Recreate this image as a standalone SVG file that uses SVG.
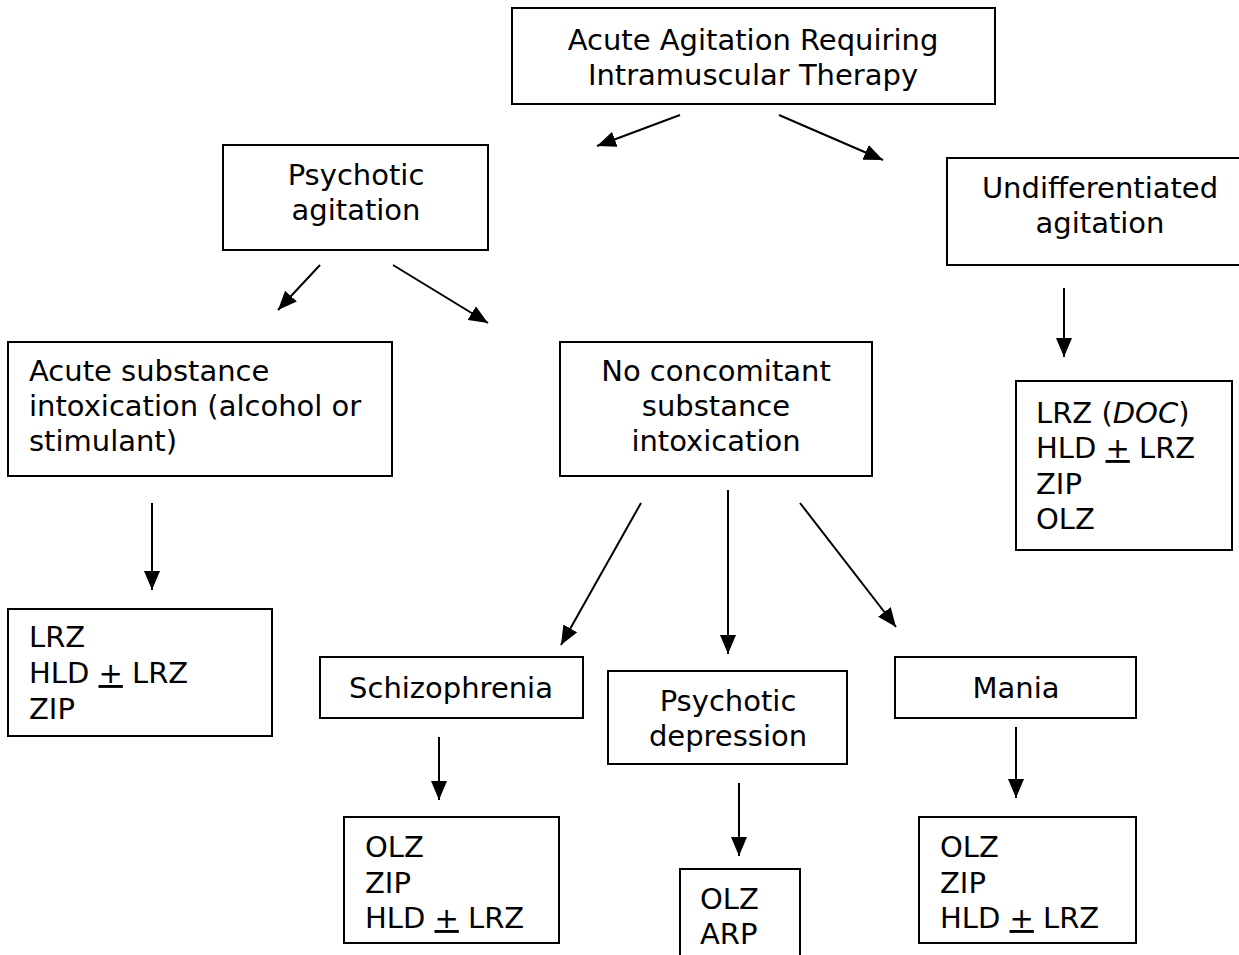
<svg xmlns="http://www.w3.org/2000/svg" width="1239" height="955" viewBox="0 0 1239 955">
<defs>
<marker id="ah" markerUnits="userSpaceOnUse" markerWidth="20" markerHeight="16" refX="19" refY="8" orient="auto"><path d="M0,0 L19,8 L0,16 z" fill="#000"/></marker>
<style>
rect{fill:#fff;stroke:#000;stroke-width:2}
text{font-family:"DejaVu Sans","Verdana",sans-serif;font-size:29px;fill:#000}
.c{text-anchor:middle}
.u{text-decoration:underline}
#connectors line{stroke:#000;stroke-width:2;marker-end:url(#ah)}
</style>
</defs>
<rect x="0" y="0" width="1239" height="955" style="stroke:none"/>
<g id="n-root"><rect x="512" y="8" width="483" height="96"/><text class="c" x="753" y="50">Acute Agitation Requiring</text><text class="c" x="753" y="85">Intramuscular Therapy</text></g>
<g id="n-psych"><rect x="223" y="145" width="265" height="105"/><text class="c" x="356" y="185">Psychotic</text><text class="c" x="356" y="220">agitation</text></g>
<g id="n-undiff"><rect x="947" y="158" width="300" height="107"/><text class="c" x="1100" y="198">Undifferentiated</text><text class="c" x="1100" y="233">agitation</text></g>
<g id="n-acute"><rect x="8" y="342" width="384" height="134"/><text x="29" y="381">Acute substance</text><text x="29" y="416">intoxication (alcohol or</text><text x="29" y="451">stimulant)</text></g>
<g id="n-noconc"><rect x="560" y="342" width="312" height="134"/><text class="c" x="716" y="381">No concomitant</text><text class="c" x="716" y="416">substance</text><text class="c" x="716" y="451">intoxication</text></g>
<g id="n-undiff-rx"><rect x="1016" y="381" width="216" height="169"/><text x="1036" y="423">LRZ (<tspan font-style="italic">DOC</tspan>)</text><text x="1036" y="458">HLD <tspan class="u">+</tspan> LRZ</text><text x="1036" y="494">ZIP</text><text x="1036" y="529">OLZ</text></g>
<g id="n-acute-rx"><rect x="8" y="609" width="264" height="127"/><text x="29" y="647">LRZ</text><text x="29" y="683">HLD <tspan class="u">+</tspan> LRZ</text><text x="29" y="719">ZIP</text></g>
<g id="n-schizo"><rect x="320" y="657" width="263" height="61"/><text class="c" x="451" y="698">Schizophrenia</text></g>
<g id="n-pdep"><rect x="608" y="671" width="239" height="93"/><text class="c" x="728" y="711">Psychotic</text><text class="c" x="728" y="746">depression</text></g>
<g id="n-mania"><rect x="895" y="657" width="241" height="61"/><text class="c" x="1016" y="698">Mania</text></g>
<g id="n-schizo-rx"><rect x="344" y="817" width="215" height="126"/><text x="365" y="857">OLZ</text><text x="365" y="893">ZIP</text><text x="365" y="928">HLD <tspan class="u">+</tspan> LRZ</text></g>
<g id="n-pdep-rx"><rect x="680" y="869" width="120" height="100"/><text x="700" y="909">OLZ</text><text x="700" y="944">ARP</text></g>
<g id="n-mania-rx"><rect x="919" y="817" width="217" height="126"/><text x="940" y="857">OLZ</text><text x="940" y="893">ZIP</text><text x="940" y="928">HLD <tspan class="u">+</tspan> LRZ</text></g>
<g id="connectors">
<line x1="680" y1="115" x2="597" y2="146"/>
<line x1="779" y1="115" x2="883" y2="160"/>
<line x1="320" y1="265" x2="278" y2="310"/>
<line x1="393" y1="265" x2="488" y2="323"/>
<line x1="1064" y1="288" x2="1064" y2="357"/>
<line x1="152" y1="503" x2="152" y2="590"/>
<line x1="641" y1="503" x2="561" y2="645"/>
<line x1="728" y1="490" x2="728" y2="654"/>
<line x1="800" y1="503" x2="896" y2="627"/>
<line x1="439" y1="737" x2="439" y2="800"/>
<line x1="739" y1="783" x2="739" y2="856"/>
<line x1="1016" y1="727" x2="1016" y2="798"/>
</g>
</svg>
